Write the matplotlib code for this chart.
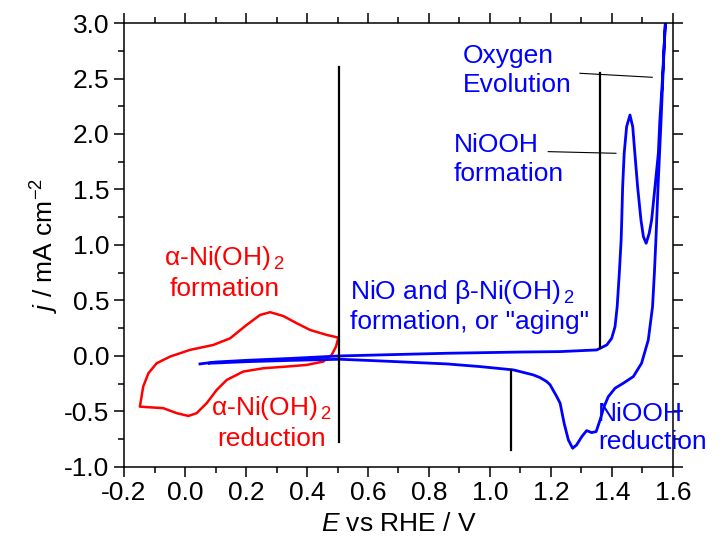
import matplotlib.pyplot as plt
from matplotlib.ticker import MultipleLocator

plt.rcParams['font.family'] = ['Liberation Sans', 'DejaVu Sans']
plt.rcParams['mathtext.fontset'] = 'custom'
plt.rcParams['mathtext.rm'] = 'Liberation Sans'
plt.rcParams['mathtext.it'] = 'Liberation Sans:italic'

# alpha-Ni(OH)2 loop (red), E in V vs RHE, j in mA cm-2
red_E = [0.503, 0.465, 0.410, 0.366, 0.322, 0.279, 0.246, 0.202, 0.148, 0.093, 0.016,
         -0.049, -0.093, -0.120, -0.137, -0.148, -0.071, -0.027, 0.011, 0.038, 0.071,
         0.104, 0.137, 0.191, 0.257, 0.333, 0.399, 0.453, 0.481, 0.495, 0.503]
red_j = [0.165, 0.189, 0.234, 0.295, 0.360, 0.394, 0.369, 0.279, 0.159, 0.099, 0.054,
         -0.006, -0.066, -0.156, -0.276, -0.457, -0.471, -0.516, -0.541, -0.516, -0.426,
         -0.306, -0.216, -0.141, -0.111, -0.096, -0.081, -0.051, 0.009, 0.084, 0.165]

# Ni electrode CV (blue): anodic sweep up to 1.575 V
an_E = [0.049, 0.100, 0.200, 0.350, 0.508, 0.858, 1.100, 1.230, 1.350, 1.361, 1.383,
        1.399, 1.410, 1.417, 1.424, 1.430, 1.432, 1.435, 1.440, 1.448, 1.459, 1.468,
        1.475, 1.484, 1.495, 1.503, 1.512, 1.522, 1.530, 1.541, 1.552, 1.557, 1.564,
        1.571, 1.575]
an_j = [-0.072, -0.055, -0.040, -0.022, 0.000, 0.024, 0.035, 0.039, 0.054, 0.069, 0.099,
        0.159, 0.264, 0.444, 0.745, 1.045, 1.225, 1.525, 1.826, 2.066, 2.171, 2.066,
        1.826, 1.525, 1.225, 1.075, 1.015, 1.105, 1.225, 1.525, 1.826, 2.126, 2.426,
        2.786, 3.000]
# cathodic return
ca_E = [1.575, 1.571, 1.561, 1.551, 1.544, 1.539, 1.533, 1.519, 1.497, 1.470, 1.437,
        1.410, 1.388, 1.374, 1.361, 1.348, 1.333, 1.317, 1.301, 1.284, 1.271, 1.257,
        1.243, 1.230, 1.219, 1.197, 1.186, 1.164, 1.142, 1.077, 0.967, 0.858, 0.639,
        0.508, 0.350, 0.200, 0.080]
ca_j = [3.000, 2.786, 2.126, 1.525, 1.045, 0.745, 0.444, 0.144, -0.066, -0.186, -0.246,
        -0.291, -0.367, -0.457, -0.577, -0.682, -0.691, -0.673, -0.727, -0.802, -0.832, -0.757,
        -0.606, -0.426, -0.367, -0.260, -0.231, -0.195, -0.171, -0.126, -0.096, -0.072, -0.045,
        -0.030, -0.040, -0.052, -0.066]

# region markers and leader lines
vlines_x = [0.505, 1.361, 1.068]
vlines_y0 = [-0.778, 0.069, -0.847]
vlines_y1 = [2.600, 2.547, -0.126]
leader_x = [[1.295, 1.532], [1.191, 1.413]]
leader_y = [[2.547, 2.511], [1.841, 1.826]]

fig = plt.figure(figsize=(7.21, 5.48), dpi=100)
ax = fig.add_axes([0.172, 0.148, 0.7614, 0.810])

ax.plot(red_E, red_j, color='#ff0000', lw=1.8)
ax.plot(an_E + ca_E, an_j + ca_j, color='#0000ff', lw=2.0)

for x, y0, y1 in zip(vlines_x, vlines_y0, vlines_y1):
    ax.plot([x, x], [y0, y1], color='black', lw=1.6)
for lx, ly in zip(leader_x, leader_y):
    ax.plot(lx, ly, color='black', lw=0.8)

fs = 19
sub = '$\\,$$_2$'
kw = dict(fontsize=fs, va='center', linespacing=1.25)
ax.text(0.911, 2.57, 'Oxygen\nEvolution', color='blue', ha='left', **kw)
ax.text(0.882, 1.77, 'NiOOH\nformation', color='blue', ha='left', **kw)
ax.text(0.541, 0.45, 'NiO and β-Ni(OH)' + sub + '\nformation, or "aging"', color='blue',
        ha='left', **kw)
ax.text(0.131, 0.75, 'α-Ni(OH)' + sub + '\nformation', color='red', ha='center', **kw)
ax.text(0.285, -0.60, 'α-Ni(OH)' + sub + '\nreduction', color='red', ha='center', **kw)
ax.text(1.354, -0.65, 'NiOOH\nreduction', color='blue', ha='left', clip_on=False, **kw)

ax.set_xlim(-0.2, 1.6)
ax.set_ylim(-1.0, 3.0)
ax.xaxis.set_major_locator(MultipleLocator(0.2))
ax.xaxis.set_minor_locator(MultipleLocator(0.1))
ax.yaxis.set_major_locator(MultipleLocator(0.5))
ax.yaxis.set_minor_locator(MultipleLocator(0.25))
ax.xaxis.set_major_formatter(plt.FuncFormatter(lambda v, p: f'{v:.1f}'))
ax.yaxis.set_major_formatter(plt.FuncFormatter(lambda v, p: f'{v:.1f}'))
ax.tick_params(which='both', direction='out', top=True, right=True, width=1.1,
               labelsize=fs)
ax.tick_params(which='major', length=7)
ax.tick_params(which='minor', length=4)
for s in ax.spines.values():
    s.set_linewidth(1.1)

ax.set_xlabel('$E$ vs RHE / V', fontsize=fs, labelpad=5)
ax.set_ylabel('$j$ / mA cm$^{-2}$', fontsize=fs, labelpad=2)

fig.savefig('out.png', dpi=100)
